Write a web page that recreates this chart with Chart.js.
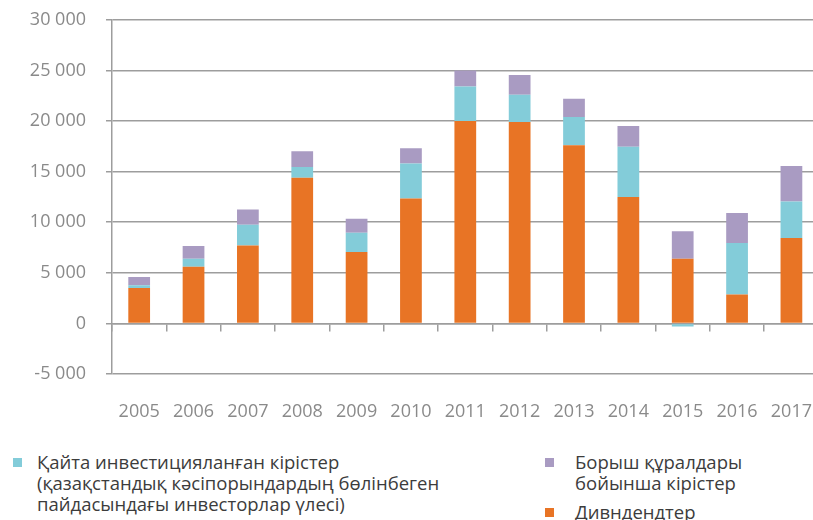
<!DOCTYPE html>
<html>
<head>
<meta charset="utf-8">
<script src="https://cdn.jsdelivr.net/npm/chart.js@4"></script>
<style>
  body { margin: 0; background: #fff; font-family: "Open Sans", sans-serif; overflow: hidden; width: 813px; height: 520px; position: relative; }
  #wrap { position: absolute; left: 0; top: -11px; width: 831px; height: 441px; }
  .leg { position: absolute; font-size: 18.5px; line-height: 21px; color: #3c3c3c; white-space: nowrap; }
  .sq { position: absolute; width: 9px; height: 9px; }
</style>
</head>
<body>
<div id="wrap"><canvas id="fdiChart"></canvas></div>

<div class="sq" style="left:13px; top:458px; background:#83ccd9"></div>
<div class="leg" style="left:37px; top:451px">Қайта инвестицияланған кірістер<br>(қазақстандық кәсіпорындардың бөлінбеген<br>пайдасындағы инвесторлар үлесі)</div>

<div class="sq" style="left:545px; top:458px; background:#a99bc2"></div>
<div class="leg" style="left:575px; top:451px">Борыш құралдары<br>бойынша кірістер</div>

<div class="sq" style="left:545px; top:508px; background:#e87425"></div>
<div class="leg" style="left:575px; top:501px">Дивндендтер</div>

<script>
const jyldar = ["2005","2006","2007","2008","2009","2010","2011","2012","2013","2014","2015","2016","2017"];
const dividendter = [3500, 5600, 7700, 14400, 7050, 12350, 20000, 19900, 17600, 12500, 6400, 2850, 8450];
const qaitaInvest = [280, 800, 2050, 1050, 1900, 3450, 3400, 2700, 2800, 4950, -300, 5100, 3600];
const borysh = [800, 1250, 1500, 1550, 1400, 1500, 1600, 1950, 1800, 2050, 2700, 2950, 3500];
const yTicks = [-5000, 0, 5000, 10000, 15000, 20000, 25000, 30000];

const gridGray = "#9d9d9d";
const textGray = "#8a8a8a";

function bosyqpen(v) {
    const s = Math.abs(v).toString().replace(/\B(?=(\d{3})+(?!\d))/g, " ");
    return (v < 0 ? "-" : "") + s;
}

new Chart(document.getElementById("fdiChart"), {
    type: "bar",
    data: {
        labels: jyldar,
        datasets: [
            { label: "Дивндендтер", data: dividendter, backgroundColor: "#e87425" },
            { label: "Қайта инвестицияланған кірістер", data: qaitaInvest, backgroundColor: "#83ccd9" },
            { label: "Борыш құралдары бойынша кірістер", data: borysh, backgroundColor: "#a99bc2" }
        ]
    },
    options: {
        responsive: true,
        maintainAspectRatio: false,
        animation: false,
        datasets: {
            bar: { categoryPercentage: 1, barPercentage: 0.4 }
        },
        layout: { padding: { top: 0, right: 0, left: 0, bottom: 0 } },
        scales: {
            x: {
                stacked: true,
                position: { y: 0 },
                ticks: { display: false },
                grid: { offset: true, drawOnChartArea: false, drawTicks: true, tickLength: 7, color: gridGray, lineWidth: 1.5 },
                border: { display: true, color: gridGray, width: 1.5 },
                afterFit: (s) => { s.height = 0; }
            },
            x2: {
                type: "category",
                labels: jyldar,
                position: "bottom",
                grid: { display: false },
                border: { display: false },
                ticks: { color: textGray, padding: 19, font: { family: "Open Sans", size: 18 }, maxRotation: 0, autoSkip: false },
                afterFit: (s) => { s.height = 56; }
            },
            y: {
                stacked: true,
                min: -5000,
                max: 30000,
                afterBuildTicks: (s) => { s.ticks = yTicks.map(v => ({ value: v })); },
                ticks: {
                    color: textGray,
                    padding: 20,
                    font: { family: "Open Sans", size: 18 },
                    callback: (v) => bosyqpen(v)
                },
                grid: { color: gridGray, lineWidth: 1.5, tickLength: 6 },
                border: { display: true, color: gridGray, width: 1.5 },
                afterFit: (s) => { s.width = 112; }
            }
        },
        plugins: {
            legend: { display: false },
            tooltip: { enabled: false }
        }
    }
});
</script>
</body>
</html>
